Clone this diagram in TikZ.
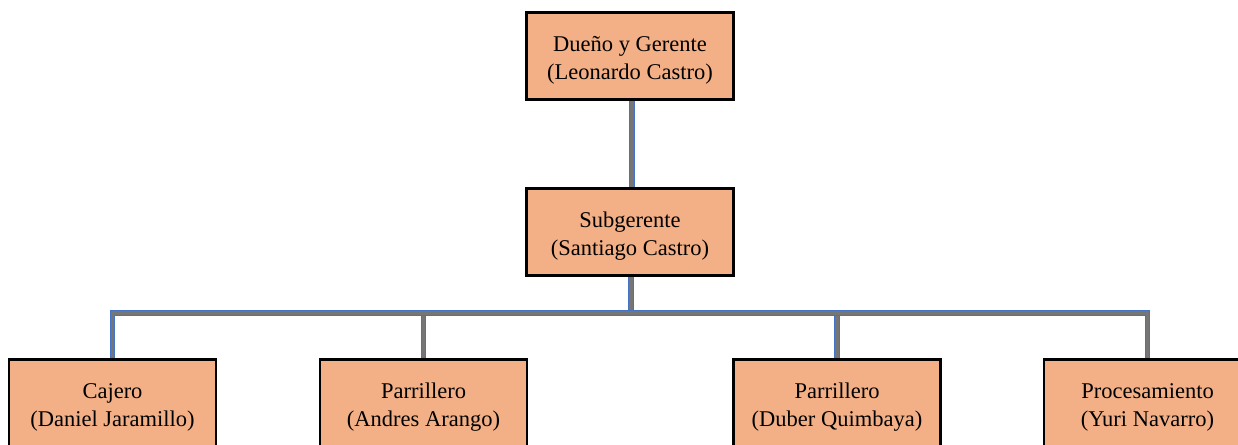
\documentclass[tikz,border=0pt]{standalone}
\usepackage{fontspec}
\setmainfont{Liberation Serif}
\definecolor{boxfill}{RGB}{243,176,134}
\definecolor{connblue}{RGB}{68,114,196}
\definecolor{conngray}{RGB}{118,118,118}
\newcommand\topstrut{\rule{0pt}{24pt}}
\begin{document}
\begin{tikzpicture}[x=1pt,y=-1pt,
  orgbox/.style={draw=black, line width=2.6pt, fill=boxfill, minimum width=207pt, minimum height=87pt, inner sep=0pt, align=center, font=\fontsize{22.5}{28.5}\selectfont},
  conn/.style={draw=connblue, line width=1pt, double=conngray, double distance=3.4pt}]
\useasboundingbox (0,0) rectangle (1238,444);
\fill[white] (0,0) rectangle (1238,444);
\node[orgbox] (top) at (630,56) {\topstrut Dueño y Gerente\\(Leonardo Castro)};
\node[orgbox] (sub) at (630,232) {\topstrut Subgerente\\(Santiago Castro)};
\node[orgbox] (cajero) at (112.5,403) {\topstrut Cajero\\(Daniel Jaramillo)};
\node[orgbox] (parr1) at (423.5,403) {\topstrut Parrillero\\(Andres Arango)};
\node[orgbox] (parr2) at (837,403) {\topstrut Parrillero\\(Duber Quimbaya)};
\node[orgbox] (proc) at (1147.5,403) {\topstrut Procesamiento\\(Yuri Navarro)};
\coordinate (bus) at (631,313);
\draw[conn] ([xshift=2pt]top.south) -- ([xshift=2pt]sub.north);
\draw[conn] (sub.south -| bus) -- (bus);
\draw[conn] (parr1.north) -- (parr1.north |- bus);
\draw[conn] (parr2.north) -- (parr2.north |- bus);
\draw[conn] (cajero.north) |- (bus) -| (proc.north);
\end{tikzpicture}
\end{document}
